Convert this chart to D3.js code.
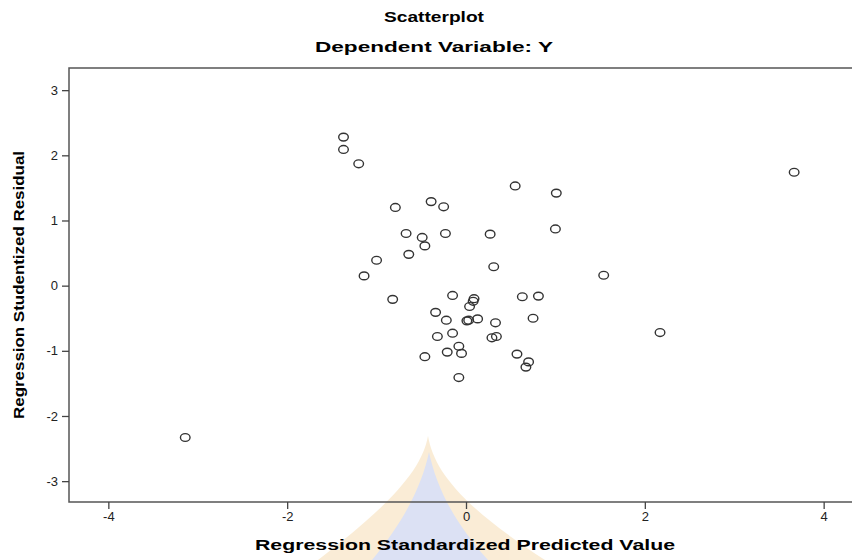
<!DOCTYPE html>
<html>
<head>
<meta charset="utf-8">
<script src="https://cdn.jsdelivr.net/npm/d3@7"></script>
<style>
  body { margin: 0; background: #fff; }
  svg { display: block; font-family: "Liberation Sans", Arial, sans-serif; }
</style>
</head>
<body>
<svg id="chart" width="852" height="560"></svg>
<script>
// standardized predicted value (x) and studentized residual (y)
const predicted = [
  -1.37, -1.37, -1.20, 0.55, -0.79, -0.39, -0.25, -0.67, -0.49, -0.46,
  -0.23, 0.27, -0.64, -1.00, 0.31, -1.14, 1.01, 1.00, 1.54, 2.17,
  3.67, -3.14, -0.82, -0.15, 0.09, 0.08, 0.04, 0.63, 0.81, -0.34,
  -0.22, 0.03, 0.01, 0.13, 0.33, 0.75, -0.32, -0.15, 0.29, 0.34,
  -0.08, -0.21, -0.05, -0.46, 0.57, 0.70, 0.67, -0.08
];
const residual = [
  2.28, 2.09, 1.87, 1.53, 1.20, 1.29, 1.21, 0.80, 0.74, 0.61,
  0.80, 0.79, 0.48, 0.39, 0.29, 0.15, 1.42, 0.87, 0.16, -0.72,
  1.74, -2.33, -0.21, -0.15, -0.20, -0.24, -0.32, -0.17, -0.16, -0.41,
  -0.53, -0.53, -0.54, -0.51, -0.57, -0.50, -0.78, -0.73, -0.80, -0.78,
  -0.93, -1.02, -1.04, -1.09, -1.05, -1.17, -1.25, -1.41
];
const xTicks = [-4, -2, 0, 2, 4];
const yTicks = [-3, -2, -1, 0, 1, 2, 3];

const svg = d3.select('#chart');
const plot = { left: 69, top: 68, right: 863, bottom: 502 };

const x = d3.scaleLinear().domain([-4.44, 4.44]).range([plot.left, plot.right]);
const y = d3.scaleLinear().domain([-3.32, 3.34]).range([plot.bottom, plot.top]);

// faint watermark behind the chart
const wm = svg.append('g').attr('opacity', 0.4);
wm.append('path')
  .attr('fill', '#f3d29a')
  .attr('d', 'M428,436 C434,470 460,505 545,560 L318,560 C390,505 422,470 428,436 Z');
wm.append('path')
  .attr('fill', '#a9b6e4')
  .attr('d', 'M429,452 C436,485 452,520 488,560 L372,560 C405,520 422,485 429,452 Z');

// titles
svg.append('text')
  .attr('x', 434).attr('y', 22)
  .attr('text-anchor', 'middle')
  .attr('font-size', 15).attr('font-weight', 'bold')
  .attr('textLength', 100).attr('lengthAdjust', 'spacingAndGlyphs')
  .text('Scatterplot');
svg.append('text')
  .attr('x', 434).attr('y', 52)
  .attr('text-anchor', 'middle')
  .attr('font-size', 15).attr('font-weight', 'bold')
  .attr('textLength', 238).attr('lengthAdjust', 'spacingAndGlyphs')
  .text('Dependent Variable: Y');

// frame
svg.append('rect')
  .attr('x', plot.left).attr('y', plot.top)
  .attr('width', plot.right - plot.left).attr('height', plot.bottom - plot.top)
  .attr('fill', 'none').attr('stroke', '#555').attr('stroke-width', 1.5);

// axes
const fmt = d => String(d);
const gx = svg.append('g')
  .attr('transform', `translate(0,${plot.bottom})`)
  .call(d3.axisBottom(x).tickValues(xTicks).tickFormat(fmt).tickSize(7).tickPadding(3));
const gy = svg.append('g')
  .attr('transform', `translate(${plot.left},0)`)
  .call(d3.axisLeft(y).tickValues(yTicks).tickFormat(fmt).tickSize(7).tickPadding(4));

[gx, gy].forEach(g => {
  g.select('.domain').remove();
  g.selectAll('line').attr('stroke', '#444').attr('stroke-width', 1.3);
  g.selectAll('text')
    .attr('font-size', 13)
    .attr('font-family', '"Liberation Sans", Arial, sans-serif')
    .attr('fill', '#222');
});

// axis titles
svg.append('text')
  .attr('x', 465).attr('y', 550)
  .attr('text-anchor', 'middle')
  .attr('font-size', 15).attr('font-weight', 'bold')
  .attr('textLength', 420).attr('lengthAdjust', 'spacingAndGlyphs')
  .text('Regression Standardized Predicted Value');
svg.append('text')
  .attr('transform', 'translate(24,285) rotate(-90)')
  .attr('text-anchor', 'middle')
  .attr('font-size', 15).attr('font-weight', 'bold')
  .attr('textLength', 268).attr('lengthAdjust', 'spacingAndGlyphs')
  .text('Regression Studentized Residual');

// points
svg.append('g')
  .selectAll('ellipse')
  .data(predicted.map((p, i) => [p, residual[i]]))
  .join('ellipse')
  .attr('cx', d => x(d[0]))
  .attr('cy', d => y(d[1]))
  .attr('rx', 4.8)
  .attr('ry', 3.9)
  .attr('fill', 'none')
  .attr('stroke', '#333')
  .attr('stroke-width', 1.4);
</script>
</body>
</html>
